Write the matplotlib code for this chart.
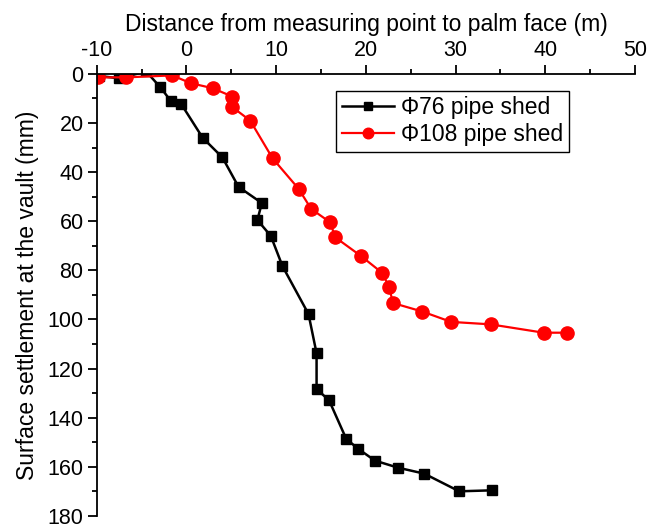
import matplotlib
matplotlib.use("Agg")
import matplotlib.pyplot as plt
from matplotlib.ticker import MultipleLocator

plt.rcParams['font.family'] = ['Liberation Sans', 'DejaVu Sans']
plt.rcParams['axes.unicode_minus'] = False

# Φ76 pipe shed
x76 = [-9.8, -7.5, -4.5, -2.9, -1.75, -0.6, 1.8, 4.0, 5.8, 8.4, 7.9, 9.4, 10.7,
       13.6, 14.5, 14.5, 15.9, 17.8, 19.1, 21.0, 23.6, 26.5, 30.4, 34.1]
y76 = [0.8, 1.8, -1.0, 5.5, 11.0, 12.2, 26.0, 34.0, 46.0, 52.6, 59.5, 66.0, 78.3,
       97.8, 113.8, 128.3, 133.0, 148.6, 152.6, 157.5, 160.4, 162.8, 170.0, 169.6]

# Φ108 pipe shed
x108 = [-9.9, -6.7, -1.6, 0.5, 2.9, 5.1, 5.1, 7.1, 9.6, 12.5, 13.9, 16.0, 16.6,
        19.5, 21.8, 22.6, 23.0, 26.3, 29.5, 33.9, 39.8, 42.4]
y108 = [1.4, 1.4, 0.6, 3.8, 5.8, 9.2, 13.5, 19.0, 34.4, 46.8, 55.0, 60.4, 66.6,
        74.3, 81.0, 86.8, 93.3, 96.8, 101.0, 102.0, 105.4, 105.4]

xlabel = "Distance from measuring point to palm face (m)"
ylabel = "Surface settlement at the vault (mm)"
labels = ["\u03a676 pipe shed", "\u03a6108 pipe shed"]

FS = 16.5
TFS = 15.5

fig = plt.figure(figsize=(6.54, 5.28), dpi=100)
ax = fig.add_axes([0.148, 0.023, 0.823, 0.837])

ax.plot(x76, y76, color='black', lw=1.8, marker='s', ms=7.5, label=labels[0])
ax.plot(x108, y108, color='red', lw=1.6, marker='o', ms=9.5, label=labels[1])

ax.set_xlim(-10, 50)
ax.set_ylim(180, 0)
ax.xaxis.set_ticks_position('top')
ax.xaxis.set_label_position('top')
ax.xaxis.set_major_locator(MultipleLocator(10))
ax.xaxis.set_minor_locator(MultipleLocator(5))
ax.yaxis.set_major_locator(MultipleLocator(20))
ax.yaxis.set_minor_locator(MultipleLocator(10))
for s in ['right', 'bottom']:
    ax.spines[s].set_visible(False)
for s in ['left', 'top']:
    ax.spines[s].set_linewidth(1.3)
ax.tick_params(which='major', direction='out', length=6.5, width=1.3, labelsize=TFS, pad=3)
ax.tick_params(which='minor', direction='out', length=3.5, width=1.3)
ax.set_xlabel(xlabel, fontsize=FS, labelpad=6)
ax.set_ylabel(ylabel, fontsize=FS, labelpad=6)

leg = ax.legend(loc='upper left', bbox_to_anchor=(0.444, 0.962), fontsize=FS,
                borderaxespad=0,
                frameon=True, fancybox=False, edgecolor='black', framealpha=1,
                handlelength=2.3, borderpad=0.25, labelspacing=0.15, handletextpad=0.3,
                markerscale=0.8)
leg.get_frame().set_linewidth(1.0)

fig.savefig("out.png", dpi=100)
